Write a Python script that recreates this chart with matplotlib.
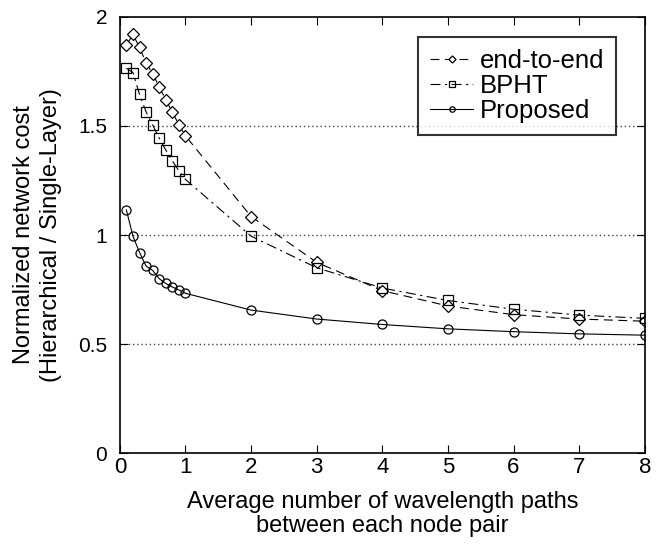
import matplotlib
matplotlib.use('Agg')
import matplotlib.pyplot as plt

plt.rcParams['font.family'] = ['Liberation Sans', 'DejaVu Sans']

# data
x = [0.1, 0.2, 0.3, 0.4, 0.5, 0.6, 0.7, 0.8, 0.9, 1.0, 2, 3, 4, 5, 6, 7, 8]
endToEnd = [1.87, 1.92, 1.86, 1.79, 1.74, 1.68, 1.62, 1.565, 1.505, 1.455,
            1.085, 0.875, 0.745, 0.675, 0.635, 0.615, 0.605]
bpht = [1.765, 1.745, 1.645, 1.565, 1.505, 1.445, 1.39, 1.34, 1.295, 1.255,
        0.995, 0.85, 0.757, 0.70, 0.66, 0.633, 0.618]
proposed = [1.115, 0.995, 0.92, 0.858, 0.838, 0.80, 0.778, 0.762, 0.748, 0.733,
            0.656, 0.615, 0.59, 0.57, 0.557, 0.547, 0.541]

fig = plt.figure(figsize=(6.62, 5.46), dpi=100)
ax = fig.add_axes([0.181, 0.170, 0.793, 0.799])

ax.plot(x, endToEnd, color='black', lw=0.8, dashes=(8, 5), marker='D', ms=6,
        mfc='white', mec='black', mew=0.9, label='end-to-end')
ax.plot(x, bpht, color='black', lw=0.8, dashes=(9, 4, 2, 4), marker='s', ms=7,
        mfc='none', mec='black', mew=0.9, label='BPHT')
ax.plot(x, proposed, color='black', lw=0.8, ls='-', marker='o', ms=6.5,
        mfc='none', mec='black', mew=0.9, label='Proposed')

ax.set_xlim(0, 8)
ax.set_ylim(0, 2)
ax.set_xticks(range(0, 9))
ax.set_yticks([0, 0.5, 1, 1.5, 2])
ax.set_yticklabels(['0', '0.5', '1', '1.5', '2'])
for yv in [0.5, 1, 1.5]:
    ax.axhline(yv, color='#444444', lw=1.0, ls=(0, (1, 2)), zorder=0)

ax.tick_params(direction='in', top=True, right=True, length=6, width=0.8)
ax.tick_params(axis='x', labelsize=16, pad=3)
ax.tick_params(axis='y', labelsize=15, pad=9)
for s in ax.spines.values():
    s.set_linewidth(1.2)

ax.set_xlabel('Average number of wavelength paths\nbetween each node pair',
              fontsize=17, labelpad=9, linespacing=1.12)
ax.set_ylabel('Normalized network cost\n(Hierarchical / Single-Layer)',
              fontsize=17, labelpad=12, linespacing=1.25)

leg = ax.legend(loc='upper right', bbox_to_anchor=(0.945, 0.954), fontsize=18.5,
                frameon=True, fancybox=False, handlelength=1.7, markerscale=0.6,
                handletextpad=0.25, borderpad=0.45, labelspacing=0.05,
                borderaxespad=0)
leg.get_frame().set_edgecolor('black')
leg.get_frame().set_linewidth(1.5)

fig.savefig('out.png', dpi=100)
